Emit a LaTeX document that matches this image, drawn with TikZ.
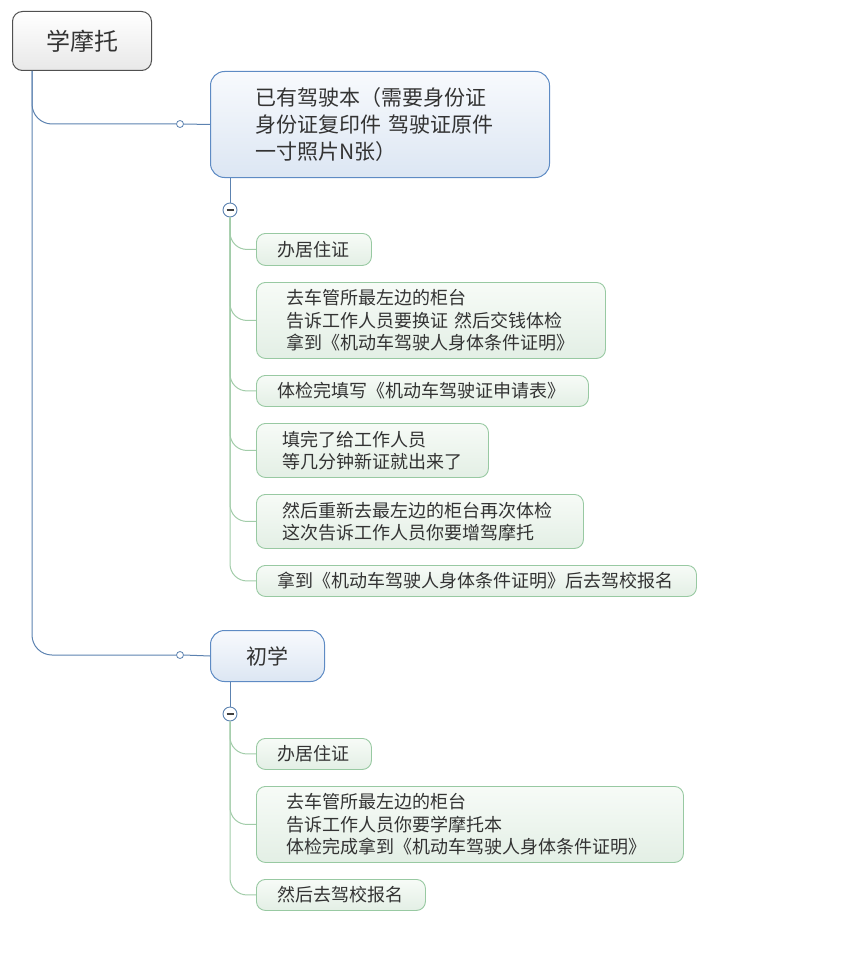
\documentclass[tikz,border=0pt]{standalone}
\usepackage{fontspec}
\setmainfont{Noto Sans CJK SC}
\definecolor{txtc}{HTML}{333333}
\definecolor{rootc}{HTML}{505050}
\definecolor{linec}{HTML}{5C82B0}
\definecolor{topc}{HTML}{5E8BC4}
\definecolor{topt}{HTML}{F8FAFD}
\definecolor{topb}{HTML}{DCE6F3}
\definecolor{glinec}{HTML}{A2CCA9}
\definecolor{leafc}{HTML}{98C9A2}
\definecolor{leaft}{HTML}{F7FBF7}
\definecolor{leafb}{HTML}{E3EFE5}
\begin{document}
\begin{tikzpicture}[x=1pt,y=-1pt,
  rootbox/.style={draw=rootc, line width=1pt, rounded corners=10pt, top color=white, bottom color=black!9, text=txtc, font=\fontsize{24pt}{29pt}\selectfont, anchor=north west, inner sep=0pt},
  topicbox/.style={draw=topc, line width=1pt, rounded corners=14pt, top color=topt, bottom color=topb, text=txtc, anchor=north west, inner ysep=0pt},
  leafbox/.style={draw=leafc, line width=0.9pt, rounded corners=9pt, top color=leaft, bottom color=leafb, text=txtc, font=\fontsize{18pt}{22.5pt}\selectfont, align=left, anchor=north west, inner ysep=0pt},
  bline/.style={draw=linec, line width=1pt},
  gline/.style={draw=glinec, line width=1pt, rounded corners=17pt},
  dot/.style={circle, draw=linec, fill=white, inner sep=0pt, minimum size=7pt, line width=0.8pt},
  minus/.style={circle, draw=linec, fill=white, inner sep=0pt, minimum size=14pt, line width=0.9pt,
    path picture={\draw[line width=1.2pt, draw=black!75] ([xshift=-3.5pt]path picture bounding box.center) -- ([xshift=3.5pt]path picture bounding box.center);}}
]
\useasboundingbox (0,0) rectangle (844,979);

% root
\node[rootbox, minimum width=139pt, minimum height=59pt] (r) at (12,11) {学摩托};
\coordinate (rs) at ([xshift=20pt]r.south west);

% topic 1
\node[topicbox, font=\fontsize{21pt}{27pt}\selectfont, align=left, text width=249pt, inner xsep=45pt, minimum height=106pt] (t1) at (210,71)
  {已有驾驶本（需要身份证\\身份证复印件 驾驶证原件\\一寸照片N张）};
\node[dot] (d1) at (180,124) {};
\node[minus] (m1) at (230,210) {};

% leaves of topic 1
\node[leafbox, text width=73pt, inner xsep=21pt, minimum height=32pt] (a1) at (256,233) {办居住证};
\node[leafbox, text width=289pt, inner xsep=30pt, minimum height=76pt] (a2) at (256,282)
  {去车管所最左边的柜台\\告诉工作人员要换证 然后交钱体检\\拿到《机动车驾驶人身体条件证明》};
\node[leafbox, text width=290pt, inner xsep=21pt, minimum height=31pt] (a3) at (256,375) {体检完填写《机动车驾驶证申请表》};
\node[leafbox, text width=180pt, inner xsep=26pt, minimum height=54pt] (a4) at (256,423)
  {填完了给工作人员\\等几分钟新证就出来了};
\node[leafbox, text width=275pt, inner xsep=26pt, minimum height=54pt] (a5) at (256,494)
  {然后重新去最左边的柜台再次体检\\这次告诉工作人员你要增驾摩托};
\node[leafbox, text width=398pt, inner xsep=21pt, minimum height=31pt] (a6) at (256,565) {拿到《机动车驾驶人身体条件证明》后去驾校报名};

% topic 2
\node[topicbox, font=\fontsize{21pt}{26pt}\selectfont, minimum width=114pt, minimum height=51pt, inner xsep=0pt] (t2) at (210,630) {初学};
\node[dot] (d2) at (180,655) {};
\node[minus] (m2) at (230,714) {};

% leaves of topic 2
\node[leafbox, text width=73pt, inner xsep=21pt, minimum height=31pt] (b1) at (256,738) {办居住证};
\node[leafbox, text width=367pt, inner xsep=30pt, minimum height=76pt] (b2) at (256,786)
  {去车管所最左边的柜台\\告诉工作人员你要学摩托本\\体检完成拿到《机动车驾驶人身体条件证明》};
\node[leafbox, text width=127pt, inner xsep=21pt, minimum height=31pt] (b3) at (256,879) {然后去驾校报名};

% connectors root -> topics
\draw[bline, rounded corners=20pt] (rs) |- (d1.west);
\draw[bline, rounded corners=20pt] (rs) |- (d2.west);
\draw[bline] (d1.east) -- (t1.west);
\draw[bline] (d2.east) -- (t2.west);

% topic -> minus
\draw[bline] ([xshift=20pt]t1.south west) -- (m1.north);
\draw[bline] ([xshift=20pt]t2.south west) -- (m2.north);

% minus -> leaves
\foreach \n in {a1,a2,a3,a4,a5,a6}{
  \draw[gline] (m1.south) |- (\n.west);
}
\foreach \n in {b1,b2,b3}{
  \draw[gline] (m2.south) |- (\n.west);
}
\end{tikzpicture}
\end{document}
